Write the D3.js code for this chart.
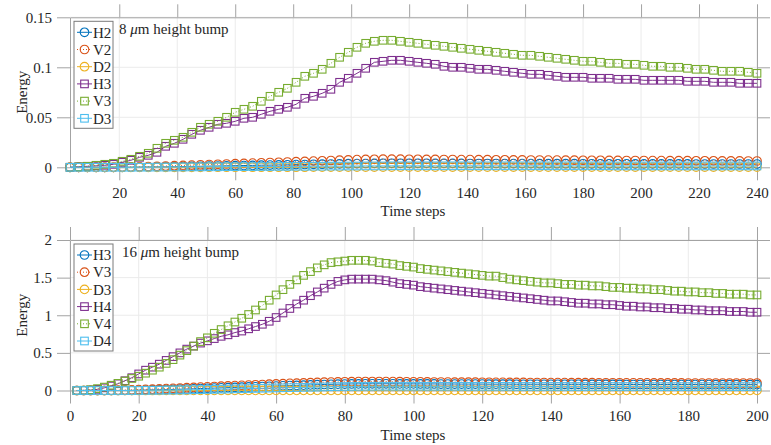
<!DOCTYPE html>
<html>
<head>
<meta charset="utf-8">
<script src="https://cdn.jsdelivr.net/npm/d3@7"></script>
<style>
  body { margin: 0; background: #fff; }
  text { font-family: "Liberation Serif", "Times New Roman", serif; fill: #262626; }
</style>
</head>
<body>
<script>
// ---- data: 8 um bump (every 3rd step) ----
let stepsTop = d3.range(3, 241, 3);
let topH2 = [0,0,0,0,0,0,0,0.0001,0.0002,0.0003,
  0.0004,0.0005,0.0006,0.0008,0.0009,0.001,0.0012,0.0013,0.0015,0.0016,
  0.0018,0.0019,0.0021,0.0022,0.0024,0.0025,0.0027,0.0028,0.003,0.0031,
  0.0033,0.0034,0.0036,0.0037,0.0038,0.0039,0.004,0.004,0.004,0.004,
  0.004,0.004,0.0039,0.0039,0.0039,0.0039,0.0038,0.0038,0.0038,0.0038,
  0.0037,0.0037,0.0037,0.0037,0.0036,0.0036,0.0036,0.0036,0.0036,0.0035,
  0.0035,0.0035,0.0035,0.0035,0.0035,0.0034,0.0034,0.0034,0.0034,0.0034,
  0.0034,0.0034,0.0033,0.0033,0.0033,0.0033,0.0033,0.0033,0.0033,0.0033];
let topV2 = [0,0,0,0,0,0,0.0002,0.0003,0.0005,0.0007,
  0.001,0.0013,0.0016,0.0019,0.0022,0.0025,0.0028,0.003,0.0033,0.0036,
  0.0039,0.0042,0.0045,0.0048,0.005,0.0053,0.0056,0.0059,0.0062,0.0065,
  0.0068,0.0071,0.0074,0.0077,0.0079,0.008,0.0081,0.0081,0.0081,0.008,
  0.008,0.0079,0.0079,0.0078,0.0078,0.0077,0.0077,0.0076,0.0076,0.0075,
  0.0075,0.0074,0.0074,0.0073,0.0073,0.0072,0.0072,0.0071,0.0071,0.007,
  0.007,0.007,0.0069,0.0069,0.0068,0.0068,0.0068,0.0067,0.0067,0.0066,
  0.0066,0.0066,0.0065,0.0065,0.0065,0.0064,0.0064,0.0064,0.0063,0.0063];
let topD2 = [0,0,0,0,0,0,0,0,0,0,
  0,0,0,0,0,0,0.0001,0.0001,0.0001,0.0001,
  0.0001,0.0001,0.0001,0.0001,0.0001,0.0001,0.0001,0.0001,0.0002,0.0002,
  0.0002,0.0002,0.0002,0.0002,0.0002,0.0002,0.0002,0.0002,0.0002,0.0002,
  0.0002,0.0002,0.0002,0.0002,0.0002,0.0002,0.0002,0.0002,0.0002,0.0002,
  0.0002,0.0002,0.0002,0.0002,0.0002,0.0002,0.0002,0.0002,0.0002,0.0002,
  0.0002,0.0002,0.0002,0.0002,0.0002,0.0002,0.0002,0.0002,0.0002,0.0002,
  0.0002,0.0002,0.0002,0.0002,0.0002,0.0002,0.0002,0.0002,0.0002,0.0002];
let topH3 = [0,0.0005,0.001,0.0015,0.002,0.003,0.005,0.007,0.010,0.012,
  0.015,0.021,0.024,0.028,0.033,0.037,0.040,0.043,0.044,0.046,
  0.049,0.050,0.053,0.056,0.058,0.060,0.063,0.069,0.071,0.074,
  0.078,0.085,0.089,0.094,0.099,0.105,0.106,0.107,0.107,0.106,
  0.105,0.104,0.103,0.101,0.100,0.100,0.099,0.098,0.098,0.097,
  0.096,0.095,0.094,0.093,0.093,0.092,0.091,0.090,0.090,0.090,
  0.089,0.089,0.089,0.088,0.088,0.088,0.087,0.087,0.087,0.087,
  0.087,0.086,0.086,0.086,0.085,0.085,0.085,0.084,0.084,0.084];
let topV3 = [0,0.0005,0.001,0.002,0.003,0.004,0.006,0.008,0.011,0.014,
  0.019,0.024,0.027,0.030,0.035,0.040,0.043,0.046,0.050,0.055,
  0.058,0.061,0.066,0.071,0.075,0.079,0.085,0.091,0.094,0.098,
  0.104,0.110,0.115,0.120,0.124,0.126,0.127,0.127,0.126,0.125,
  0.124,0.123,0.122,0.121,0.120,0.119,0.118,0.117,0.116,0.115,
  0.114,0.113,0.112,0.112,0.111,0.110,0.109,0.108,0.107,0.106,
  0.106,0.105,0.104,0.104,0.103,0.103,0.102,0.101,0.101,0.100,
  0.100,0.099,0.098,0.098,0.097,0.096,0.096,0.096,0.095,0.094];
let topD3 = [0,0,0,0,0,0,0,0,0.0001,0.0001,
  0.0002,0.0002,0.0003,0.0003,0.0004,0.0004,0.0005,0.0005,0.0006,0.0006,
  0.0007,0.0007,0.0008,0.0008,0.0009,0.0009,0.001,0.001,0.0011,0.0011,
  0.0012,0.0012,0.0013,0.0013,0.0014,0.0014,0.0014,0.0015,0.0015,0.0015,
  0.0015,0.0015,0.0015,0.0015,0.0015,0.0015,0.0015,0.0015,0.0015,0.0015,
  0.0015,0.0015,0.0015,0.0015,0.0015,0.0015,0.0015,0.0015,0.0015,0.0015,
  0.0015,0.0015,0.0015,0.0014,0.0014,0.0014,0.0014,0.0014,0.0014,0.0014,
  0.0014,0.0014,0.0014,0.0014,0.0014,0.0014,0.0014,0.0014,0.0014,0.0014];

// ---- data: 16 um bump (every 2nd step) ----
let stepsBot = d3.range(2, 201, 2);
let botH3 = [0,0,0,0,0,0,0,0.001,0.002,0.004,
  0.006,0.008,0.010,0.012,0.014,0.017,0.020,0.023,0.026,0.029,
  0.032,0.035,0.038,0.041,0.044,0.047,0.050,0.053,0.056,0.059,
  0.062,0.065,0.068,0.071,0.074,0.077,0.080,0.082,0.084,0.086,
  0.087,0.088,0.089,0.089,0.089,0.089,0.089,0.088,0.088,0.088,
  0.087,0.087,0.087,0.086,0.086,0.086,0.085,0.085,0.085,0.085,
  0.084,0.084,0.084,0.084,0.083,0.083,0.083,0.083,0.083,0.082,
  0.082,0.082,0.082,0.082,0.081,0.081,0.081,0.081,0.081,0.081,
  0.080,0.080,0.080,0.080,0.080,0.080,0.079,0.079,0.079,0.079,
  0.079,0.079,0.079,0.078,0.078,0.078,0.078,0.078,0.078,0.078];
let botV3 = [0,0,0,0,0,0.002,0.004,0.006,0.009,0.012,
  0.015,0.018,0.021,0.025,0.029,0.033,0.037,0.041,0.045,0.049,
  0.053,0.057,0.061,0.065,0.069,0.072,0.076,0.080,0.084,0.088,
  0.091,0.095,0.098,0.101,0.104,0.107,0.110,0.112,0.114,0.116,
  0.117,0.118,0.119,0.119,0.119,0.118,0.118,0.117,0.116,0.115,
  0.115,0.114,0.113,0.113,0.112,0.111,0.111,0.110,0.110,0.109,
  0.109,0.108,0.108,0.107,0.107,0.107,0.106,0.106,0.106,0.105,
  0.105,0.105,0.104,0.104,0.104,0.104,0.103,0.103,0.103,0.103,
  0.102,0.102,0.102,0.102,0.101,0.101,0.101,0.101,0.101,0.100,
  0.100,0.100,0.100,0.100,0.099,0.099,0.099,0.099,0.099,0.099];
let botD3 = [0,0,0,0,0,0,0,0,0,0,
  0,0,0,0.001,0.001,0.001,0.001,0.001,0.001,0.001,
  0.001,0.001,0.001,0.001,0.001,0.001,0.001,0.001,0.001,0.001,
  0.001,0.001,0.001,0.001,0.001,0.001,0.001,0.001,0.001,0.001,
  0.001,0.001,0.001,0.001,0.001,0.001,0.001,0.001,0.001,0.001,
  0.001,0.001,0.001,0.001,0.001,0.001,0.001,0.001,0.001,0.001,
  0.001,0.001,0.001,0.001,0.001,0.001,0.001,0.001,0.001,0.001,
  0.001,0.001,0.001,0.001,0.001,0.001,0.001,0.001,0.001,0.001,
  0.001,0.001,0.001,0.001,0.001,0.001,0.001,0.001,0.001,0.001,
  0.001,0.001,0.001,0.001,0.001,0.001,0.001,0.001,0.001,0.001];
let botH4 = [0,0.002,0.006,0.015,0.035,0.06,0.09,0.13,0.17,0.22,
  0.27,0.31,0.35,0.40,0.45,0.50,0.55,0.59,0.63,0.66,
  0.69,0.72,0.74,0.77,0.79,0.82,0.85,0.88,0.92,0.97,
  1.03,1.09,1.15,1.20,1.26,1.31,1.36,1.41,1.45,1.47,
  1.48,1.48,1.48,1.48,1.47,1.46,1.44,1.42,1.41,1.40,
  1.38,1.37,1.36,1.35,1.34,1.33,1.32,1.31,1.30,1.29,
  1.28,1.27,1.26,1.25,1.24,1.23,1.22,1.21,1.20,1.19,
  1.19,1.18,1.17,1.16,1.16,1.15,1.15,1.14,1.14,1.13,
  1.12,1.12,1.11,1.11,1.10,1.10,1.09,1.09,1.08,1.08,
  1.07,1.07,1.06,1.06,1.06,1.05,1.05,1.05,1.04,1.04];
let botV4 = [0,0.003,0.01,0.025,0.045,0.07,0.095,0.125,0.16,0.19,
  0.23,0.27,0.31,0.36,0.41,0.47,0.53,0.59,0.65,0.70,
  0.76,0.81,0.86,0.91,0.96,1.01,1.07,1.13,1.20,1.27,
  1.34,1.41,1.47,1.53,1.58,1.63,1.67,1.70,1.71,1.72,
  1.73,1.73,1.73,1.72,1.70,1.69,1.68,1.66,1.65,1.64,
  1.62,1.61,1.60,1.59,1.58,1.57,1.56,1.55,1.54,1.53,
  1.52,1.52,1.50,1.48,1.47,1.46,1.45,1.44,1.43,1.43,
  1.42,1.41,1.41,1.40,1.40,1.39,1.39,1.38,1.37,1.37,
  1.36,1.36,1.35,1.35,1.34,1.34,1.33,1.32,1.32,1.31,
  1.31,1.30,1.30,1.29,1.29,1.28,1.28,1.28,1.27,1.27];
let botD4 = [0,0,0,0,0,0,0,0,0,0.001,
  0.002,0.003,0.004,0.005,0.006,0.007,0.008,0.010,0.012,0.014,
  0.016,0.018,0.020,0.022,0.024,0.026,0.028,0.030,0.032,0.034,
  0.036,0.038,0.040,0.042,0.044,0.046,0.048,0.050,0.052,0.053,
  0.054,0.055,0.056,0.056,0.057,0.057,0.057,0.057,0.057,0.057,
  0.057,0.056,0.056,0.056,0.056,0.056,0.056,0.055,0.055,0.055,
  0.055,0.055,0.055,0.055,0.054,0.054,0.054,0.054,0.054,0.054,
  0.054,0.054,0.053,0.053,0.053,0.053,0.053,0.053,0.053,0.053,
  0.053,0.053,0.053,0.052,0.052,0.052,0.052,0.052,0.052,0.052,
  0.052,0.052,0.052,0.052,0.052,0.052,0.052,0.052,0.052,0.052];

let topNames = ["H2", "V2", "D2", "H3", "V3", "D3"];
let botNames = ["H3", "V3", "D3", "H4", "V4", "D4"];
let topXTicks = [20, 40, 60, 80, 100, 120, 140, 160, 180, 200, 220, 240];
let botXTicks = [0, 20, 40, 60, 80, 100, 120, 140, 160, 180, 200];
let topYTicks = [0, 0.05, 0.1, 0.15];
let botYTicks = [0, 0.5, 1, 1.5, 2];

let colors = ["#0072BD", "#D95319", "#EDB120", "#7E2F8E", "#77AC30", "#4DBEEE"];
let dashes = [null, "1,2", null, null, "1,2", null];
let shapes = ["circle", "circle", "circle", "square", "square", "square"];

let svg = d3.select("body").append("svg")
    .attr("width", 771).attr("height", 445);

let tickLen = 13;

function marker(g, shape, color) {
    if (shape === "circle") {
        g.append("circle").attr("r", 4.3)
            .attr("fill", "none").attr("stroke", color).attr("stroke-width", 1.1);
    } else {
        g.append("rect").attr("x", -3.8).attr("y", -3.8)
            .attr("width", 7.6).attr("height", 7.6)
            .attr("fill", "none").attr("stroke", color).attr("stroke-width", 1.1);
    }
}

function drawPanel(opt) {
    let x = d3.scaleLinear().domain(opt.xDomain).range([70, 757]);
    let y = d3.scaleLinear().domain(opt.yDomain).range([opt.bottom, opt.top]);
    let g = svg.append("g");

    // grid
    g.append("g").selectAll("line").data(opt.xTicks).enter().append("line")
        .attr("x1", d => x(d)).attr("x2", d => x(d))
        .attr("y1", opt.top).attr("y2", opt.bottom)
        .attr("stroke", "#ebebeb");
    g.append("g").selectAll("line").data(opt.yTicks).enter().append("line")
        .attr("x1", 70).attr("x2", 757)
        .attr("y1", d => y(d)).attr("y2", d => y(d))
        .attr("stroke", "#ebebeb");

    // axes, ticks pointing out on all four sides
    let fmt = d3.format("~g");
    let ax = [
        g.append("g").attr("transform", `translate(0,${opt.bottom})`)
            .call(d3.axisBottom(x).tickValues(opt.xTicks).tickSize(tickLen).tickSizeOuter(0).tickPadding(7).tickFormat(fmt)),
        g.append("g").attr("transform", `translate(0,${opt.top})`)
            .call(d3.axisTop(x).tickValues(opt.xTicks).tickSize(tickLen).tickSizeOuter(0).tickFormat("")),
        g.append("g").attr("transform", "translate(70,0)")
            .call(d3.axisLeft(y).tickValues(opt.yTicks).tickSize(tickLen).tickSizeOuter(0).tickPadding(5).tickFormat(fmt)),
        g.append("g").attr("transform", "translate(757,0)")
            .call(d3.axisRight(y).tickValues(opt.yTicks).tickSize(tickLen).tickSizeOuter(0).tickFormat(""))
    ];
    ax.forEach(a => {
        a.selectAll("path,line").attr("stroke", "#a3a3a3");
        a.selectAll("text").attr("font-size", 15).attr("fill", "#262626")
            .attr("font-family", "Liberation Serif");
    });

    g.append("text").attr("x", 413).attr("y", opt.bottom + 49)
        .attr("text-anchor", "middle").attr("font-size", 15).text("Time steps");
    g.append("text").attr("transform", `translate(22,${(opt.top + opt.bottom) / 2}) rotate(-90)`)
        .attr("dy", "0.35em").attr("text-anchor", "middle").attr("font-size", 15).text("Energy");

    // series
    let line = d3.line().x((d, i) => x(opt.steps[i])).y(d => y(d));
    opt.series.forEach((s, k) => {
        let sg = g.append("g");
        sg.append("path").datum(s).attr("d", line)
            .attr("fill", "none").attr("stroke", colors[k]).attr("stroke-width", 1)
            .attr("stroke-dasharray", dashes[k]);
        sg.selectAll("g").data(s).enter().append("g")
            .attr("transform", (d, i) => `translate(${x(opt.steps[i])},${y(d)})`)
            .each(function () { marker(d3.select(this), shapes[k], colors[k]); });
    });

    // title text
    let t = g.append("text").attr("x", opt.titleX).attr("y", opt.top + 17).attr("font-size", 15);
    t.append("tspan").text(opt.bump + " ");
    t.append("tspan").attr("font-style", "italic").text("\u03bc");
    t.append("tspan").text("m height bump");

    // legend
    let lg = g.append("g").attr("transform", `translate(74,${opt.top + 4})`);
    lg.append("rect").attr("width", 39).attr("height", 107)
        .attr("fill", "#fff").attr("stroke", "#7a7a7a").attr("stroke-width", 1);
    opt.names.forEach((n, k) => {
        let row = lg.append("g").attr("transform", `translate(0,${11 + k * 17.2})`);
        row.append("line").attr("x1", 3).attr("x2", 18)
            .attr("stroke", colors[k]).attr("stroke-width", 1)
            .attr("stroke-dasharray", dashes[k]);
        let m = row.append("g").attr("transform", "translate(10.5,0)");
        marker(m, shapes[k], colors[k]);
        row.append("text").attr("x", 19).attr("dy", "0.35em")
            .attr("font-size", 15).text(n);
    });
}

drawPanel({
    steps: stepsTop, series: [topH2, topV2, topD2, topH3, topV3, topD3],
    names: topNames, xDomain: [3, 240], yDomain: [0, 0.15],
    top: 17.3, bottom: 167.3, xTicks: topXTicks, yTicks: topYTicks,
    bump: "8", titleX: 119
});
drawPanel({
    steps: stepsBot, series: [botH3, botV3, botD3, botH4, botV4, botD4],
    names: botNames, xDomain: [0, 200], yDomain: [0, 2],
    top: 240, bottom: 390.5, xTicks: botXTicks, yTicks: botYTicks,
    bump: "16", titleX: 122
});
</script>
</body>
</html>
